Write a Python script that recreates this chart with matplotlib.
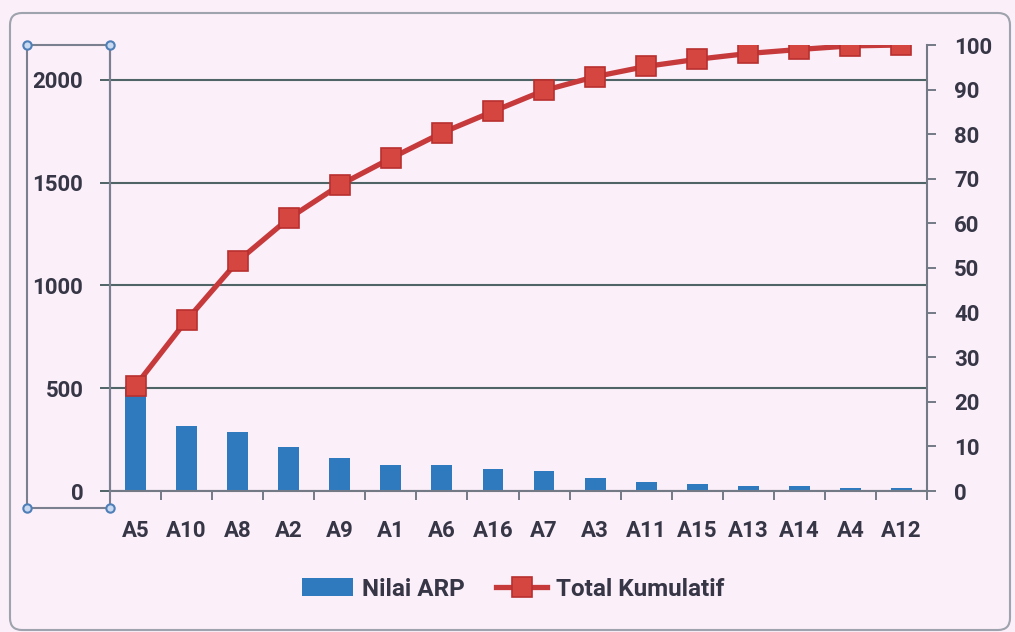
import matplotlib
matplotlib.use("Agg")
import matplotlib.pyplot as plt
from matplotlib.lines import Line2D
from matplotlib.patches import FancyBboxPatch
import numpy as np

# values
categories = ["A5", "A10", "A8", "A2", "A9", "A1", "A6", "A16",
              "A7", "A3", "A11", "A15", "A13", "A14", "A4", "A12"]
nilai_arp = [510, 317, 288, 213, 160, 127, 125, 106,
             95, 62, 45, 35, 22, 22, 14, 14]
total_kumulatif = [23.6, 38.3, 51.5, 61.1, 68.6, 74.6, 80.3, 85.1,
                   89.8, 92.9, 95.2, 96.8, 98.1, 99.0, 99.8, 100.0]
left_ticks = [0, 500, 1000, 1500, 2000]
right_ticks = list(range(0, 101, 10))

BG = "#fbeff9"
BAR = "#2f7abf"
LINE = "#c63a3c"
MARK = "#d4463f"
GRID = "#4f6466"
AXC = "#737a86"
TXT = "#363646"

plt.rcParams["font.family"] = ["Roboto", "DejaVu Sans"]
plt.rcParams["font.weight"] = "bold"
FS = 16

W, H = 1015, 632
fig = plt.figure(figsize=(W / 100, H / 100), dpi=100, facecolor=BG)
ax = fig.add_axes([110 / W, 1 - 491 / H, (927 - 110) / W, (491 - 45) / H])
ax.set_facecolor("none")
ax2 = ax.twinx()

x = np.arange(len(categories))
bars = ax.bar(x, nilai_arp, width=0.41, color=BAR, zorder=2,
              label="Nilai ARP")
ax.set_xlim(-0.5, len(categories) - 0.5)
ax.set_ylim(0, 2170)
ax.set_yticks(left_ticks)
ax.yaxis.grid(True, color=GRID, linewidth=1.5, zorder=0)
ax.set_axisbelow(True)

ax.set_xticks(x)
ax.set_xticklabels(categories, fontweight="bold")
ax.set_xticks(np.arange(-0.5, len(categories), 1.0), minor=True)
ax.tick_params(axis="x", which="major", length=0, pad=21,
               labelsize=FS, labelcolor=TXT)
ax.tick_params(axis="x", which="minor", length=6.5, width=1.4,
               color=AXC, direction="out")
ax.tick_params(axis="y", length=7.2, width=1.4, color=GRID, pad=12,
               labelsize=FS, labelcolor=TXT)

line, = ax2.plot(x, total_kumulatif, color=LINE, linewidth=3.8,
                 marker="s", markersize=14.5, markerfacecolor=MARK,
                 markeredgecolor="#b8302f", markeredgewidth=1.2,
                 zorder=3, label="Total Kumulatif")
ax2.set_ylim(0, 100)
ax2.set_yticks(right_ticks)
ax2.tick_params(axis="y", length=6.5, width=1.4, color=AXC, pad=13,
                labelsize=FS, labelcolor=TXT)

for lab in ax.get_yticklabels() + ax2.get_yticklabels():
    lab.set_fontweight("bold")

for a in (ax, ax2):
    a.spines["top"].set_visible(False)
    for s in ("left", "right", "bottom"):
        a.spines[s].set_color(AXC)
        a.spines[s].set_linewidth(1.5)
ax.spines["right"].set_visible(False)
ax2.spines["left"].set_visible(False)
ax2.spines["bottom"].set_visible(False)

fig.legend(handles=[bars, line], labels=["Nilai ARP", "Total Kumulatif"],
           loc="center", bbox_to_anchor=(513 / W, 1 - 589 / H),
           ncol=2, frameon=False, handlelength=2.1,
           handleheight=0.75, handletextpad=0.35, columnspacing=1.3,
           labelcolor=TXT, prop={"size": 17.5, "weight": "bold"})

# outer chart border
fig.patches.append(FancyBboxPatch(
    (0.10, 0.02), 10.0, 6.17, boxstyle="round,pad=0,rounding_size=0.12",
    transform=fig.dpi_scale_trans, facecolor="none",
    edgecolor="#9ea3ad", linewidth=1.5))

# selection frame around the left axis labels
sx = [27 / W, 110 / W, 110 / W, 27 / W, 27 / W]
sy = [1 - 45 / H, 1 - 45 / H, 1 - 508 / H, 1 - 508 / H, 1 - 45 / H]
fig.add_artist(Line2D(sx, sy, transform=fig.transFigure,
                      color="#7a8090", linewidth=1.5))
fig.add_artist(Line2D(sx[:4], sy[:4], transform=fig.transFigure,
                      linestyle="none", marker="o", markersize=6,
                      markerfacecolor="#c9daf0", markeredgecolor="#4f7fb8",
                      markeredgewidth=1.5))

fig.savefig("out.png", dpi=100, facecolor=BG)
